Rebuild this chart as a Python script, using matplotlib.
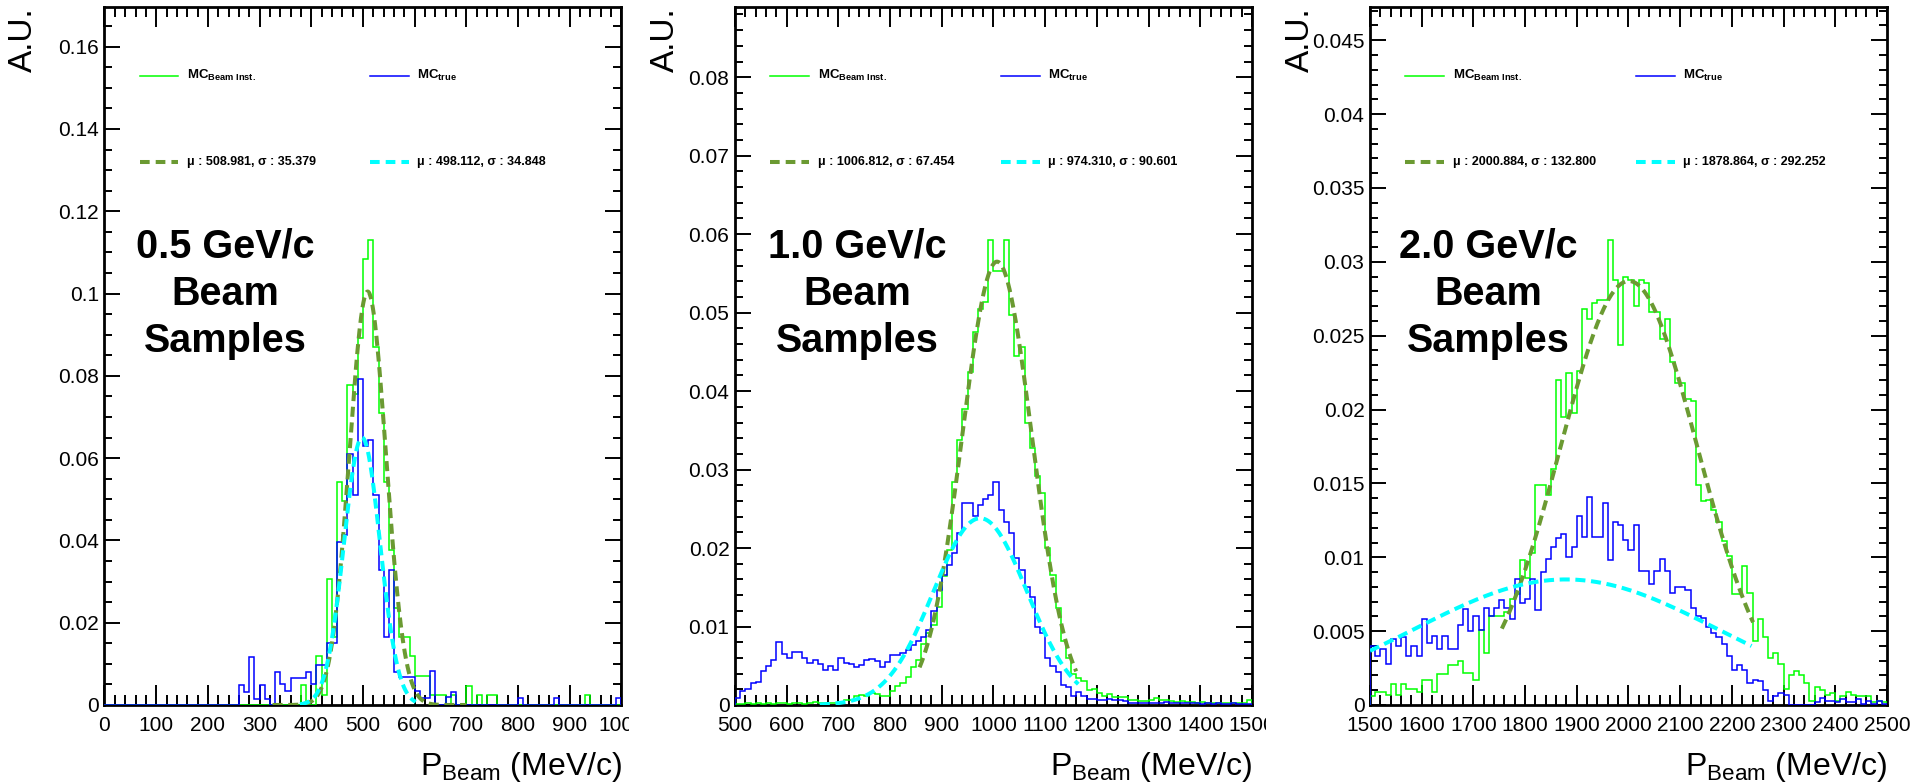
#!/usr/bin/env python3
"""
Beam momentum: beam instrumentation vs true MC, three beam samples
"""

import numpy as np
import matplotlib
matplotlib.use('Agg')
import matplotlib.pyplot as plt
from matplotlib.ticker import MultipleLocator, FuncFormatter
from matplotlib.transforms import Bbox, TransformedBbox

plt.rcParams['font.family'] = ['Liberation Sans', 'DejaVu Sans']
plt.rcParams['mathtext.fontset'] = 'custom'
plt.rcParams['mathtext.rm'] = 'Liberation Sans'
plt.rcParams['mathtext.bf'] = 'Liberation Sans:bold'
plt.rcParams['mathtext.it'] = 'Liberation Sans:italic'

# ---- data (10 MeV/c bins) ----
sample_labels = ['0.5 GeV/c', '1.0 GeV/c', '2.0 GeV/c']
x_ranges = [(0, 1000), (500, 1500), (1500, 2500)]
bin_width = 10

mc_inst_05 = [
    0, 0, 0, 0, 0, 0, 0, 0, 0, 0,
    0, 0, 0, 0, 0, 0, 0, 0, 0, 0,
    0, 0, 0, 0, 0, 0, 0, 0, 0, 0,
    0, 0, 0, 0, 0, 0, 0, 0, 0.0049, 0,
    0, 0.0119, 0.0025, 0.0306, 0.0166, 0.0542, 0.0495, 0.0778, 0.0755, 0.0893,
    0.1084, 0.1131, 0.0871, 0.0709, 0.0542, 0.0377, 0.0235, 0.0166, 0.0166, 0.0118,
    0.0071, 0.0071, 0.0071, 0.0024, 0.0024, 0.0024, 0, 0.0024, 0, 0,
    0.0047, 0, 0.0024, 0, 0.0024, 0.0024, 0, 0, 0, 0,
    0, 0, 0, 0, 0, 0, 0, 0, 0, 0,
    0, 0, 0, 0.0024, 0, 0, 0, 0, 0, 0,
]
mc_true_05 = [
    0, 0, 0, 0, 0, 0, 0, 0, 0, 0,
    0, 0, 0, 0, 0, 0, 0, 0, 0, 0,
    0, 0, 0, 0, 0, 0, 0.0048, 0.0032, 0.0116, 0.0014,
    0.0048, 0.0014, 0, 0.0081, 0.0051, 0.0034, 0.0066, 0.0066, 0.0066, 0.0081,
    0.0050, 0.0097, 0.0097, 0.0150, 0.0150, 0.0395, 0.0413, 0.0610, 0.0511, 0.0792,
    0.0629, 0.0645, 0.0511, 0.0329, 0.0166, 0.0329, 0.0081, 0.0067, 0.0067, 0.0067,
    0.0034, 0.0018, 0.0018, 0.0083, 0, 0, 0.0020, 0.0032, 0, 0,
    0, 0, 0, 0, 0, 0, 0, 0, 0, 0,
    0.0018, 0, 0, 0, 0, 0, 0, 0.0018, 0, 0,
    0, 0, 0, 0, 0, 0, 0, 0, 0, 0.0018,
]
mc_inst_10 = [
    0.0001, 0.0001, 0.0002, 0.0001, 0.0002, 0.0001, 0.0002, 0.0001, 0.0002, 0.0002,
    0.0001, 0.0002, 0.0002, 0.0001, 0.0002, 0.0004, 0.0002, 0.0002, 0.0002, 0.0003,
    0.0004, 0.0006, 0.0007, 0.0011, 0.0013, 0.0011, 0.0015, 0.0014, 0.0011, 0.0011,
    0.0018, 0.0024, 0.0028, 0.0036, 0.0048, 0.0057, 0.0078, 0.0092, 0.0102, 0.0125,
    0.0164, 0.0198, 0.0284, 0.0338, 0.0377, 0.0424, 0.0475, 0.0505, 0.0514, 0.0592,
    0.0553, 0.0553, 0.0593, 0.0497, 0.0445, 0.0456, 0.0359, 0.0328, 0.0292, 0.0270,
    0.0200, 0.0166, 0.0123, 0.0082, 0.0060, 0.0040, 0.0034, 0.0030, 0.0019, 0.0021,
    0.0015, 0.0011, 0.0014, 0.0010, 0.0010, 0.0010, 0.0007, 0.0006, 0.0005, 0.0005,
    0.0006, 0.0009, 0.0007, 0.0007, 0.0005, 0.0004, 0.0005, 0.0004, 0.0004, 0.0003,
    0.0004, 0.0003, 0.0003, 0.0002, 0.0003, 0.0002, 0.0003, 0.0002, 0.0003, 0.0006,
]
mc_true_10 = [
    0.0009, 0.0018, 0.0021, 0.0028, 0.0029, 0.0043, 0.0050, 0.0057, 0.0080, 0.0065,
    0.0060, 0.0067, 0.0067, 0.0060, 0.0054, 0.0057, 0.0052, 0.0045, 0.0050, 0.0045,
    0.0060, 0.0054, 0.0052, 0.0048, 0.0051, 0.0057, 0.0059, 0.0056, 0.0049, 0.0055,
    0.0064, 0.0064, 0.0066, 0.0070, 0.0077, 0.0081, 0.0087, 0.0095, 0.0120, 0.0147,
    0.0166, 0.0179, 0.0194, 0.0219, 0.0257, 0.0257, 0.0241, 0.0255, 0.0263, 0.0268,
    0.0284, 0.0248, 0.0233, 0.0219, 0.0187, 0.0172, 0.0151, 0.0138, 0.0100, 0.0092,
    0.0060, 0.0050, 0.0042, 0.0026, 0.0023, 0.0012, 0.0017, 0.0011, 0.0008, 0.0008,
    0.0007, 0.0007, 0.0008, 0.0006, 0.0006, 0.0005, 0.0003, 0.0003, 0.0003, 0.0002,
    0.0003, 0.0003, 0.0002, 0.0004, 0.0003, 0.0002, 0.0002, 0.0003, 0.0002, 0.0002,
    0.0001, 0.0002, 0.0001, 0.0002, 0.0001, 0.0001, 0.0002, 0.0001, 0.0001, 0.0001,
]
mc_inst_20 = [
    0.0006, 0.0009, 0.0009, 0.0007, 0.0014, 0.0007, 0.0014, 0.0011, 0.0011, 0.0009,
    0.0017, 0.0017, 0.0009, 0.0021, 0.0021, 0.0027, 0.0027, 0.0030, 0.0022, 0.0022,
    0.0017, 0.0051, 0.0035, 0.0060, 0.0060, 0.0060, 0.0063, 0.0072, 0.0075, 0.0098,
    0.0086, 0.0103, 0.0149, 0.0149, 0.0142, 0.0160, 0.0220, 0.0195, 0.0225, 0.0198,
    0.0226, 0.0268, 0.0261, 0.0272, 0.0274, 0.0274, 0.0315, 0.0288, 0.0244, 0.0290,
    0.0288, 0.0270, 0.0288, 0.0286, 0.0266, 0.0266, 0.0248, 0.0261, 0.0232, 0.0218,
    0.0218, 0.0207, 0.0206, 0.0149, 0.0138, 0.0139, 0.0132, 0.0124, 0.0111, 0.0101,
    0.0075, 0.0075, 0.0094, 0.0076, 0.0043, 0.0058, 0.0046, 0.0032, 0.0035, 0.0028,
    0.0011, 0.0020, 0.0023, 0.0020, 0.0015, 0.0003, 0.0012, 0.0010, 0.0007, 0.0008,
    0.0003, 0.0006, 0.0009, 0.0007, 0.0006, 0.0006, 0.0006, 0.0002, 0.0003, 0.0002,
]
mc_true_20 = [
    0.0040, 0.0033, 0.0038, 0.0028, 0.0045, 0.0040, 0.0046, 0.0033, 0.0040, 0.0033,
    0.0058, 0.0042, 0.0047, 0.0038, 0.0047, 0.0038, 0.0038, 0.0054, 0.0065, 0.0050,
    0.0060, 0.0051, 0.0066, 0.0060, 0.0066, 0.0071, 0.0066, 0.0058, 0.0085, 0.0069,
    0.0072, 0.0085, 0.0064, 0.0090, 0.0099, 0.0107, 0.0113, 0.0116, 0.0100, 0.0107,
    0.0128, 0.0114, 0.0141, 0.0114, 0.0114, 0.0137, 0.0098, 0.0124, 0.0122, 0.0112,
    0.0105, 0.0122, 0.0091, 0.0091, 0.0082, 0.0091, 0.0099, 0.0091, 0.0076, 0.0080,
    0.0080, 0.0078, 0.0066, 0.0060, 0.0059, 0.0053, 0.0049, 0.0046, 0.0041, 0.0033,
    0.0024, 0.0027, 0.0024, 0.0015, 0.0017, 0.0016, 0.0010, 0.0003, 0.0006, 0.0008,
    0.0007, 0, 0, 0, 0, 0, 0.0002, 0.0005, 0.0003, 0.0003,
    0.0002, 0.0004, 0.0002, 0.0002, 0.0004, 0.0001, 0.0003, 0.0001, 0.0003, 0.0001,
]

# gaussian fits: mean, sigma (from the legend), peak height and fit range
fit_inst_mu = [508.981, 1006.812, 2000.884]
fit_inst_sigma = [35.379, 67.454, 132.800]
fit_inst_amp = [0.1005, 0.0565, 0.0287]
fit_inst_range = [(325, 700), (857, 1160), (1755, 2241)]
fit_true_mu = [498.112, 974.310, 1878.864]
fit_true_sigma = [34.848, 90.601, 292.252]
fit_true_amp = [0.0650, 0.0238, 0.0085]
fit_true_range = [(378, 602), (664, 1164), (1500, 2238)]

y_major = [0.02, 0.01, 0.005]
y_minor = [0.005, 0.002, 0.001]

inst_hists = [mc_inst_05, mc_inst_10, mc_inst_20]
true_hists = [mc_true_05, mc_true_10, mc_true_20]

# ---- styling ----
C_INST = '#00ff00'
C_TRUE = '#0000ff'
C_FIT_INST = '#6b9a32'
C_FIT_TRUE = '#00ffff'
FIT_DASH = (0, (2.5, 1.4))

W, H = 1915, 784
fig = plt.figure(figsize=(W / 100, H / 100), dpi=100)
frame_left = [104.5, 735, 1370]
frame_w, frame_b, frame_h = 517, 79, 698
ylabel_x = [-0.126, -0.104, -0.104]
text_x = [0.233, 0.236, 0.228]
clip_right = [629, 1266, None]


def gaus(x, a, mu, s):
    return a * np.exp(-0.5 * ((x - mu) / s) ** 2)


axes = []
for i in range(3):
    ax = fig.add_axes([frame_left[i] / W, frame_b / H, frame_w / W, frame_h / H])
    axes.append(ax)
    lo, hi = x_ranges[i]
    edges = np.arange(lo, hi + bin_width, bin_width)
    ginst = np.array(inst_hists[i])
    gtrue = np.array(true_hists[i])

    ax.stairs(ginst, edges, color=C_INST, lw=1.1, zorder=3)
    ax.stairs(gtrue, edges, color=C_TRUE, lw=1.1, zorder=3.1)

    xf = np.linspace(*fit_inst_range[i], 400)
    ax.plot(xf, gaus(xf, fit_inst_amp[i], fit_inst_mu[i], fit_inst_sigma[i]),
            color=C_FIT_INST, lw=2.9, linestyle=FIT_DASH, zorder=4)
    xf = np.linspace(*fit_true_range[i], 400)
    ax.plot(xf, gaus(xf, fit_true_amp[i], fit_true_mu[i], fit_true_sigma[i]),
            color=C_FIT_TRUE, lw=2.9, linestyle=FIT_DASH, zorder=4.1)

    ax.set_xlim(lo, hi)
    ax.set_ylim(0, 1.5 * ginst.max())

    # axes in ROOT style
    ax.xaxis.set_major_locator(MultipleLocator(100))
    ax.xaxis.set_minor_locator(MultipleLocator(20))
    ax.yaxis.set_major_locator(MultipleLocator(y_major[i]))
    ax.yaxis.set_minor_locator(MultipleLocator(y_minor[i]))
    ax.yaxis.set_major_formatter(FuncFormatter(lambda v, p: '%g' % round(v, 4)))
    ax.tick_params(which='both', direction='in', top=True, right=True,
                   labelsize=15, width=1.4, colors='black')
    ax.tick_params(axis='x', which='major', length=14.5, pad=8)
    ax.tick_params(axis='x', which='minor', length=7)
    ax.tick_params(axis='y', which='major', length=11.5, pad=4)
    ax.tick_params(axis='y', which='minor', length=5.8)
    for sp in ax.spines.values():
        sp.set_linewidth(2)

    ax.set_xticks(np.arange(lo, hi + 1, 100))
    if clip_right[i] is not None:
        box = TransformedBbox(Bbox([[0, 0], [clip_right[i] / W, 1]]), fig.transFigure)
        for lab in ax.get_xticklabels():
            lab.set_clip_box(box)
            lab.set_clip_on(True)

    ax.set_ylabel('A.U.', fontsize=24, loc='top')
    ax.yaxis.set_label_coords(ylabel_x[i], 1.0)
    ax.set_xlabel(r'P$_{\mathrm{Beam}}$ (MeV/c)', fontsize=23, loc='right')
    ax.xaxis.set_label_coords(1.0, -0.064)

    # legend drawn by hand, two columns
    tr = ax.transAxes
    ax.plot([0.068, 0.143], [0.901, 0.901], color=C_INST, lw=1.1, transform=tr)
    ax.plot([0.514, 0.589], [0.901, 0.901], color=C_TRUE, lw=1.1, transform=tr)
    ax.plot([0.068, 0.143], [0.778, 0.778], color=C_FIT_INST, lw=2.9,
            linestyle=(0, (2.4, 1.5)), transform=tr)
    ax.plot([0.514, 0.589], [0.778, 0.778], color=C_FIT_TRUE, lw=2.9,
            linestyle=(0, (2.4, 1.5)), transform=tr)
    ax.text(0.16, 0.897, r'$\mathbf{MC}_{\mathbf{Beam\ Inst.}}$', transform=tr,
            fontsize=9.5, va='baseline')
    ax.text(0.605, 0.897, r'$\mathbf{MC}_{\mathbf{true}}$', transform=tr,
            fontsize=9.5, va='baseline')
    ax.text(0.16, 0.774, 'μ : %.3f, σ : %.3f' % (fit_inst_mu[i], fit_inst_sigma[i]),
            transform=tr, fontsize=9, fontweight='bold', va='baseline')
    ax.text(0.605, 0.774, 'μ : %.3f, σ : %.3f' % (fit_true_mu[i], fit_true_sigma[i]),
            transform=tr, fontsize=9, fontweight='bold', va='baseline')

    # sample label
    for line, yy in zip([sample_labels[i], 'Beam', 'Samples'], [0.6418, 0.5731, 0.5057]):
        ax.text(text_x[i], yy, line, transform=tr, ha='center', va='baseline',
                fontsize=28.5, fontweight='bold')

fig.savefig('out.png', dpi=100, facecolor='white')
